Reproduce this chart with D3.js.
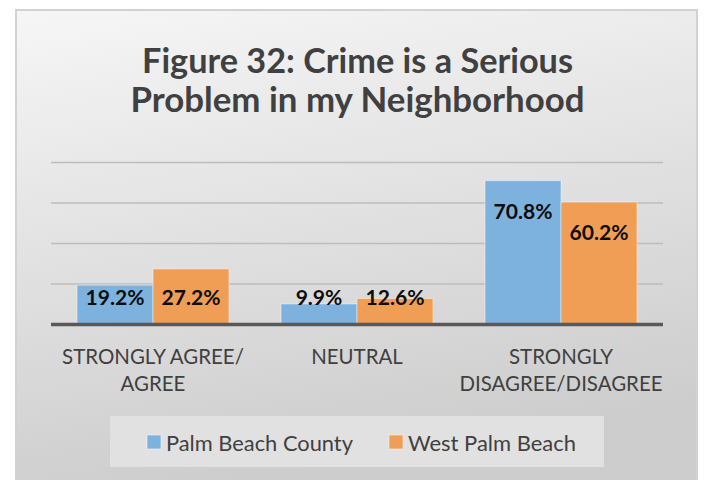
<!DOCTYPE html>
<html>
<head>
<meta charset="utf-8">
<script src="https://cdn.jsdelivr.net/npm/d3@7"></script>
<style>
  html, body { margin: 0; padding: 0; background: #ffffff; }
  svg { display: block; font-family: Lato, "Open Sans", sans-serif; }
</style>
</head>
<body>
<div id="chart"></div>
<script>
// chart data
var categories = ["STRONGLY AGREE/\nAGREE", "NEUTRAL", "STRONGLY\nDISAGREE/DISAGREE"];
var seriesNames = ["Palm Beach County", "West Palm Beach"];
var palmBeachCounty = [19.2, 9.9, 70.8];
var westPalmBeach = [27.2, 12.6, 60.2];
var yTicks = [0, 20, 40, 60, 80];
var titleLines = ["Figure 32: Crime is a Serious", "Problem in my Neighborhood"];

var width = 704, height = 480;
var colors = ["#7db2de", "#f09d55"];
var textColor = "#404040";

var svg = d3.select("#chart").append("svg")
    .attr("width", width)
    .attr("height", height);

// background gradient of the chart area
var defs = svg.append("defs");
var grad = defs.append("linearGradient")
    .attr("id", "bg")
    .attr("x1", "0").attr("y1", "0")
    .attr("x2", "0.25").attr("y2", "1");
grad.append("stop").attr("offset", "0%").attr("stop-color", "#f6f6f6");
grad.append("stop").attr("offset", "100%").attr("stop-color", "#cdcdcd");

svg.append("rect")
    .attr("x", 16).attr("y", 10)
    .attr("width", 681).attr("height", 480)
    .attr("fill", "url(#bg)")
    .attr("stroke", "#d2d2d2")
    .attr("stroke-width", 2);

// shrink or grow a text so it spans a given width
function fit(sel, target) {
    sel.each(function() {
        var fs = parseFloat(d3.select(this).attr("font-size"));
        var w = this.getComputedTextLength();
        d3.select(this).attr("font-size", (fs * target / w).toFixed(2));
    });
}

// title
var titleY = [73, 112];
var titleW = [431, 454];
titleLines.forEach(function(t, i) {
    svg.append("text")
        .attr("x", 357.5)
        .attr("y", titleY[i])
        .attr("text-anchor", "middle")
        .attr("font-size", 28)
        .attr("font-weight", "bold")
        .attr("fill", textColor)
        .text(t)
        .call(fit, titleW[i]);
});

// scales
var x0 = d3.scaleBand()
    .domain(categories)
    .range([51, 663])
    .paddingInner(0.255)
    .paddingOuter(0.1275);

var x1 = d3.scaleBand()
    .domain(seriesNames)
    .range([0, x0.bandwidth()]);

var y = d3.scaleLinear()
    .domain([0, 80])
    .range([324, 162]);

// gridlines
var grid = svg.append("g")
    .attr("transform", "translate(51,0)")
    .call(d3.axisLeft(y).tickValues(yTicks.slice(1)).tickSize(-(663 - 51)).tickFormat(""));
grid.select(".domain").remove();
grid.selectAll(".tick line")
    .attr("stroke", "#bdbdbd")
    .attr("stroke-width", 1.5);

// bars
var rows = categories.map(function(c, i) {
    return { cat: c, values: [palmBeachCounty[i], westPalmBeach[i]] };
});

var groups = svg.append("g").selectAll("g")
    .data(rows)
    .enter().append("g")
    .attr("transform", function(d) { return "translate(" + x0(d.cat) + ",0)"; });

groups.selectAll("rect")
    .data(function(d) { return d.values.map(function(v, j) { return { name: seriesNames[j], v: v, j: j }; }); })
    .enter().append("rect")
    .attr("x", function(d) { return x1(d.name); })
    .attr("y", function(d) { return y(d.v); })
    .attr("width", x1.bandwidth())
    .attr("height", function(d) { return y(0) - y(d.v); })
    .attr("fill", function(d) { return colors[d.j]; })
    .attr("stroke", "rgba(255,255,255,0.45)")
    .attr("stroke-width", 1);

// data labels
var labels = groups.selectAll("text.val")
    .data(function(d) { return d.values.map(function(v, j) { return { name: seriesNames[j], v: v }; }); })
    .enter().append("text")
    .attr("class", "val")
    .attr("x", function(d) { return x1(d.name) + x1.bandwidth() / 2; })
    .attr("y", function(d) { return Math.min(y(d.v) + 38, y(0) - 19); })
    .attr("text-anchor", "middle")
    .attr("font-size", 20)
    .attr("font-weight", "bold")
    .attr("fill", "#0d0d0d")
    .text(function(d) { return d.v.toFixed(1) + "%"; });
labels.filter(function(d) { return d.v === 19.2; }).call(fit, 59);
labels.attr("font-size", svg.selectAll("text.val").filter(function(d) { return d.v === 19.2; }).attr("font-size"));

// baseline
svg.append("line")
    .attr("x1", 51).attr("x2", 663)
    .attr("y1", y(0) + 0.5).attr("y2", y(0) + 0.5)
    .attr("stroke", "#595959")
    .attr("stroke-width", 3.5);

// category labels
var catAxis = svg.append("g");
rows.forEach(function(d) {
    var lines = d.cat.split("\n");
    lines.forEach(function(l, k) {
        catAxis.append("text")
            .attr("x", x0(d.cat) + x0.bandwidth() / 2)
            .attr("y", 364 + k * 27)
            .attr("text-anchor", "middle")
            .attr("font-size", 18)
            .attr("fill", textColor)
            .text(l);
    });
});
catAxis.selectAll("text").filter(function() { return d3.select(this).text() === "STRONGLY AGREE/"; }).call(fit, 182);
var catSize = parseFloat(catAxis.select("text").attr("font-size"));
catAxis.selectAll("text").attr("font-size", catSize);

// legend
var legend = svg.append("g");
legend.append("rect")
    .attr("x", 110).attr("y", 416)
    .attr("width", 494).attr("height", 51)
    .attr("fill", "#e1e1e1");

var legX = [147, 389];
seriesNames.forEach(function(n, i) {
    legend.append("rect")
        .attr("x", legX[i]).attr("y", 435)
        .attr("width", 14).attr("height", 14)
        .attr("fill", colors[i])
        .attr("stroke", "rgba(255,255,255,0.5)");
    legend.append("text")
        .attr("x", legX[i] + 19)
        .attr("y", 451)
        .attr("font-size", 20)
        .attr("fill", textColor)
        .text(n)
        .call(fit, i === 0 ? 187 : 168);
});
</script>
</body>
</html>
